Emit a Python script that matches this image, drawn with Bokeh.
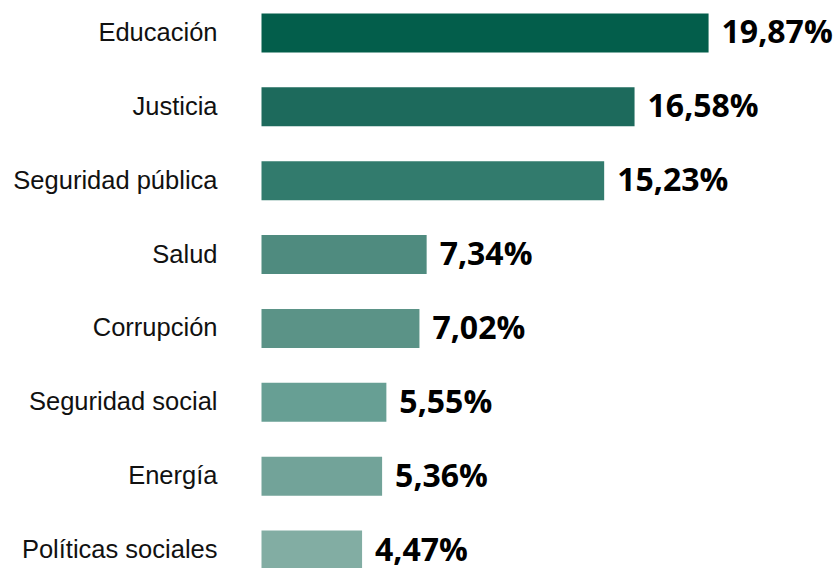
from bokeh.plotting import figure
from bokeh.models import ColumnDataSource, Range1d
from bokeh.core.properties import value
from bokeh.embed import file_html
from bokeh.resources import INLINE

categories = ["Educación", "Justicia", "Seguridad pública", "Salud", "Corrupción",
              "Seguridad social", "Energía", "Políticas sociales"]
values = [19.87, 16.58, 15.23, 7.34, 7.02, 5.55, 5.36, 4.47]
labels = ["19,87%", "16,58%", "15,23%", "7,34%", "7,02%", "5,55%", "5,36%", "4,47%"]
colors = ["#035E4B", "#1D6A5C", "#327B6D", "#4F8B7F", "#5B9387", "#679F94", "#72A399", "#82ADA3"]

pos = list(range(len(categories)))
src = ColumnDataSource(dict(y=pos, v=values, cat=categories, lab=labels, color=colors,
                            zero=[0] * len(pos), catx=[-1.956] * len(pos)))

p = figure(width=839, height=568, output_backend="svg", toolbar_location=None,
           x_range=Range1d(-11.6, 25.689), y_range=Range1d(7.25, -0.44),
           min_border=0, outline_line_color=None)
p.xaxis.visible = False
p.yaxis.visible = False
p.xgrid.visible = False
p.ygrid.visible = False
p.background_fill_color = "white"
p.border_fill_color = "white"

p.hbar(y="y", left="zero", right="v", height=0.528, fill_color="color", line_color=None, source=src)

p.text(x="v", y="y", text="lab", source=src, x_offset=13, y_offset=-2,
       text_font=value("Open Sans"), text_font_style="bold", text_font_size="32px",
       text_color="#000000", text_align="left", text_baseline="middle")

p.text(x="catx", y="y", text="cat", source=src, y_offset=-1,
       text_font=value("Liberation Sans"), text_font_size="25.5px",
       text_color="#111111", text_align="right", text_baseline="middle")

open("out.html", "w").write(file_html(p, INLINE))
